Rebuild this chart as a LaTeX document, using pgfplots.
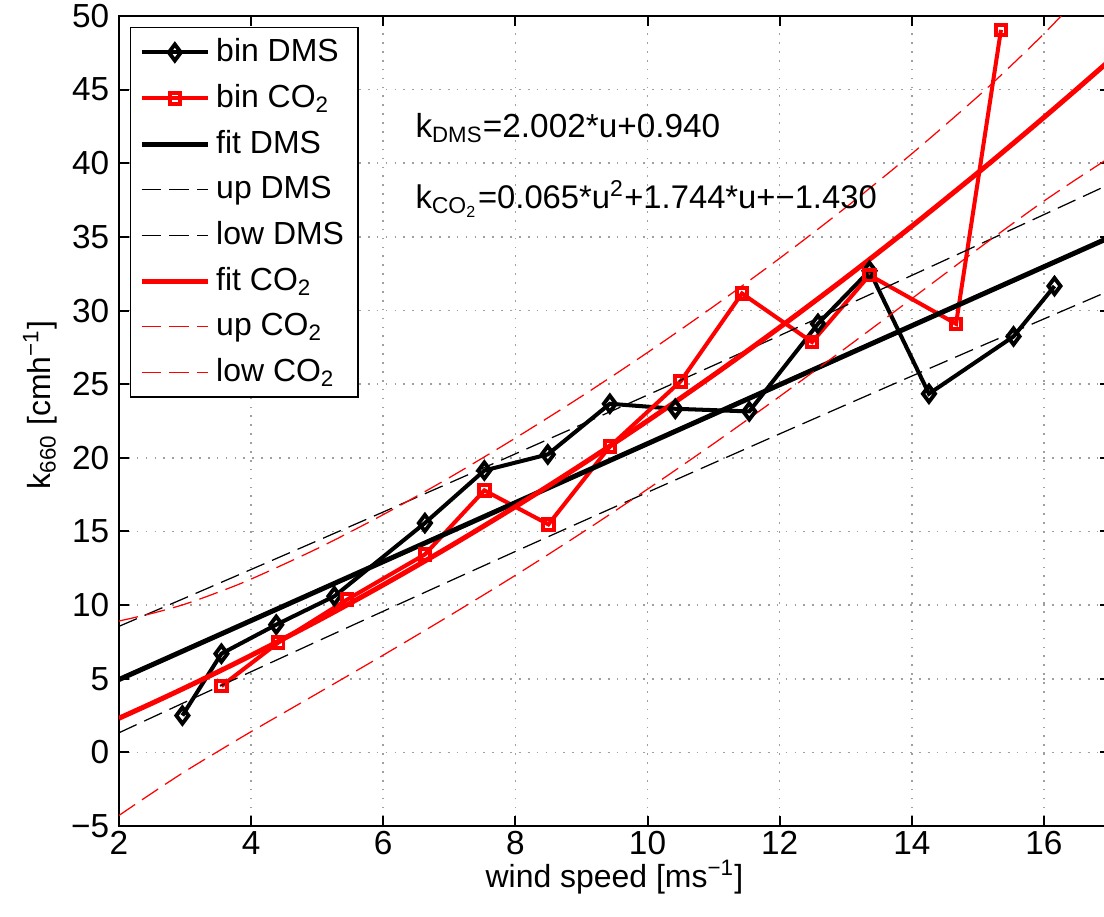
\documentclass[border=0pt]{standalone}
\usepackage{fontspec}
\setmainfont{Liberation Sans}
\usepackage{pgfplots}
\usepackage{pgfplotstable}
\pgfplotsset{compat=1.18}

\pgfplotstableread{
u k
2.96 2.5
3.55 6.7
4.38 8.67
5.26 10.6
6.63 15.57
7.53 19.14
8.49 20.23
9.43 23.67
10.42 23.33
11.54 23.15
12.58 29.1
13.36 32.7
14.26 24.35
15.54 28.24
16.16 31.66
}\binDMS

\pgfplotstableread{
u k
3.55 4.5
4.41 7.45
5.45 10.37
6.63 13.44
7.53 17.79
8.5 15.48
9.43 20.77
10.5 25.19
11.43 31.16
12.49 27.86
13.36 32.4
14.67 29.1
15.35 49.06
}\binCO

% DMS fit with bounds: u fit up low
\pgfplotstableread{
u fit up low
2 4.944 8.557 1.331
3 6.946 10.483 3.409
4 8.948 12.419 5.477
5 10.950 14.365 7.535
6 12.952 16.322 9.582
7 14.954 18.290 11.618
8 16.956 20.269 13.643
9 18.958 22.260 15.656
10 20.960 24.262 17.658
11 22.962 26.276 19.648
12 24.964 28.302 21.626
13 26.966 30.339 23.593
14 28.968 32.386 25.550
15 30.970 34.445 27.495
16 32.972 36.513 29.431
17 34.974 38.591 31.357
}\fitDMS

% CO2 fit with bounds: u fit up low
\pgfplotstableread{
u fit up low
2 2.318 8.918 -4.282
2.5 3.336 9.436 -2.764
3 4.387 10.067 -1.293
3.5 5.470 10.870 0.070
4 6.586 11.766 1.406
5 8.915 13.835 3.995
6 11.374 16.144 6.604
7 13.963 18.653 9.273
8 16.682 21.342 12.022
9 19.531 24.171 14.891
10 22.510 27.150 17.870
11 25.619 30.279 20.959
12 28.858 33.548 24.168
13 32.227 36.997 27.457
14 35.726 40.646 30.806
15 39.355 44.535 34.175
15.5 41.218 46.618 35.818
16 43.114 48.794 37.434
16.5 45.042 51.142 38.942
17 47.003 53.603 40.403
}\fitCO

\begin{document}
\begin{tikzpicture}
\begin{axis}[
  name=ax,
  scale only axis,
  width=356.76pt, height=291.6pt,
  xmin=2, xmax=17, ymin=-5, ymax=50,
  xtick={2,4,...,16}, ytick={-5,0,...,50},
  yticklabels={−5,0,5,10,15,20,25,30,35,40,45,50},
  tick align=inside,
  xtick pos=both, ytick pos=both,
  major tick length=3.6pt,
  axis line style={line width=1pt},
  every tick/.style={black, line width=0.7pt},
  grid=major,
  major grid style={draw=gray!75, line width=0.6pt, dash pattern=on 0.6pt off 2.6pt},
  tick label style={font=\fontsize{12}{14}\selectfont},
  xticklabel style={yshift=1.5pt},
  /pgf/number format/assume math mode=true,
  xlabel={wind speed [ms\textsuperscript{−1}]},
  ylabel={k\textsubscript{660} [cmh\textsuperscript{−1}]},
  label style={font=\fontsize{11.5}{13}\selectfont},
  xlabel style={at={(axis description cs:0.5,-0.063)}, anchor=center},
  ylabel style={at={(axis description cs:-0.0796,0.52)}, anchor=center},
  legend style={at={(axis description cs:0.0111,0.9864)}, anchor=north west,
    font=\fontsize{11.5}{13}\selectfont, draw=black, line width=0.5pt,
    inner xsep=3pt, inner ysep=2pt, row sep=2.7pt,
    cells={anchor=west}},
  legend cell align=left,
  legend image code/.code={\draw[mark repeat=2,mark phase=2,#1] plot coordinates {(0pt,0pt) (12pt,0pt) (24pt,0pt)};},
]
\addplot[black, line width=1.45pt, mark=diamond, mark size=2.9pt, mark options={solid, line width=1.4pt}, forget plot] table[x=u,y=k] {\binDMS};
\addplot[red, line width=1.45pt, mark=square, mark size=1.9pt, mark options={solid, line width=1.4pt}, forget plot] table[x=u,y=k] {\binCO};
\addplot[black, line width=1.8pt, forget plot] table[x=u,y=fit] {\fitDMS};
\addplot[black, line width=0.45pt, dash pattern=on 7pt off 3pt, forget plot] table[x=u,y=up] {\fitDMS};
\addplot[black, line width=0.45pt, dash pattern=on 7pt off 3pt, forget plot] table[x=u,y=low] {\fitDMS};
\addplot[red, line width=1.8pt, smooth, forget plot] table[x=u,y=fit] {\fitCO};
\addplot[red, line width=0.45pt, dash pattern=on 7pt off 3pt, smooth, forget plot] table[x=u,y=up] {\fitCO};
\addplot[red, line width=0.45pt, dash pattern=on 7pt off 3pt, smooth, forget plot] table[x=u,y=low] {\fitCO};

\addlegendimage{black, line width=1.45pt, mark=diamond, mark size=2.9pt, mark options={solid, line width=1.4pt}}
\addlegendentry{bin DMS}
\addlegendimage{red, line width=1.45pt, mark=square, mark size=1.9pt, mark options={solid, line width=1.4pt}}
\addlegendentry{bin CO\textsubscript{2}}
\addlegendimage{black, line width=1.8pt}
\addlegendentry{fit DMS}
\addlegendimage{black, line width=0.45pt, dash pattern=on 7pt off 3pt}
\addlegendentry{up DMS}
\addlegendimage{black, line width=0.45pt, dash pattern=on 7pt off 3pt}
\addlegendentry{low DMS}
\addlegendimage{red, line width=1.8pt}
\addlegendentry{fit CO\textsubscript{2}}
\addlegendimage{red, line width=0.45pt, dash pattern=on 7pt off 3pt}
\addlegendentry{up CO\textsubscript{2}}
\addlegendimage{red, line width=0.45pt, dash pattern=on 7pt off 3pt}
\addlegendentry{low CO\textsubscript{2}}

\node[anchor=base west, inner sep=0pt, font=\fontsize{12}{14}\selectfont] at (axis cs:6.48,41.75) {k\textsubscript{DMS}=2.002*u+0.940};
\node[anchor=base west, inner sep=0pt, font=\fontsize{11.8}{14}\selectfont] at (axis cs:6.48,36.93) {k\textsubscript{CO\textsubscript{2}}=0.065*u\textsuperscript{2}+1.744*u+−1.430};
\end{axis}
\pgfresetboundingbox
\path[use as bounding box] (ax.south west) ++(-42.84pt,-32.76pt) rectangle ++(397.44pt,330.12pt);
\end{tikzpicture}
\end{document}
